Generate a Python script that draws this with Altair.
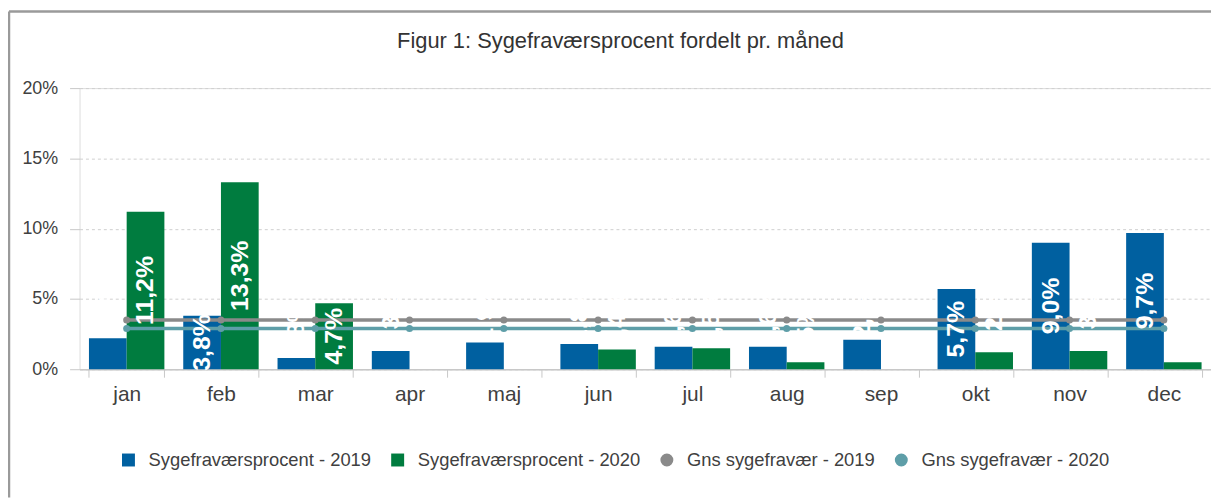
import altair as alt
import pandas as pd

months = ["jan", "feb", "mar", "apr", "maj", "jun", "jul", "aug", "sep", "okt", "nov", "dec"]
pct_2019 = [2.2, 3.8, 0.8, 1.3, 1.9, 1.8, 1.6, 1.6, 2.1, 5.7, 9.0, 9.7]
pct_2020 = [11.2, 13.3, 4.7, 0.0, 0.0, 1.4, 1.5, 0.5, 0.0, 1.2, 1.3, 0.5]
avg_2019 = [3.5, 3.5, 3.5, 3.5, 3.5, 3.5, 3.5, 3.5, 3.5, 3.5, 3.5, 3.5]
avg_2020 = [2.9, 2.9, 2.9, 2.9, 2.9, 2.9, 2.9, 2.9, 2.9, 2.9, 2.9, 2.9]

s_bar19 = "Sygefraværsprocent - 2019"
s_bar20 = "Sygefraværsprocent - 2020"
s_avg19 = "Gns sygefravær - 2019"
s_avg20 = "Gns sygefravær - 2020"
series = [s_bar19, s_bar20, s_avg19, s_avg20]
colors = ["#0060A0", "#007C3F", "#8A8A8A", "#5E9EA8"]
shapes = ["square", "square", "circle", "circle"]
title_text = "Figur 1: Sygefraværsprocent fordelt pr. måned"
color_of = dict(zip(series, colors))

def fmt(v):
    return f"{v:.1f}".replace(".", ",") + "%"

bar_rows = []
for m, a, b in zip(months, pct_2019, pct_2020):
    bar_rows.append({"month": m, "series": s_bar19, "value": a, "mid": a / 2,
                     "label": fmt(a), "hex": color_of[s_bar19]})
    bar_rows.append({"month": m, "series": s_bar20, "value": b, "mid": b / 2,
                     "label": fmt(b), "hex": color_of[s_bar20]})
bars_df = pd.DataFrame(bar_rows)

line_rows = []
for m, a, b in zip(months, avg_2019, avg_2020):
    line_rows.append({"month": m, "series": s_avg19, "value": a, "hex": color_of[s_avg19]})
    line_rows.append({"month": m, "series": s_avg20, "value": b, "hex": color_of[s_avg20]})
lines_df = pd.DataFrame(line_rows)

legend_df = pd.DataFrame({"month": ["jan"] * 4, "series": series, "value": [None] * 4})
frame_df = pd.DataFrame({"a": [0]})

W, H = 1139, 283
FONT = "Liberation Sans"

x_enc = alt.X(
    "month:N", sort=months,
    scale=alt.Scale(paddingInner=0.2, paddingOuter=0.1),
    axis=alt.Axis(title=None, tickBand="extent", labelAngle=0, labelFontSize=21,
                  labelColor="#404040", labelFont=FONT, domainColor="#c8c8c8",
                  domainWidth=1.5, tickColor="#c8c8c8", tickSize=8, labelPadding=6,
                  grid=False),
)
y_axis = alt.Axis(values=[0, 5, 10, 15, 20], labelExpr="datum.value + '%'", title=None,
                  domain=False, tickSize=10, tickColor="#c8c8c8", gridDash=[3, 3],
                  gridColor="#d0d0d0", labelPadding=12, labelFontSize=18,
                  labelColor="#404040", labelFont=FONT)
y_scale = alt.Scale(domain=[0, 20], nice=False)
xoff = alt.XOffset("series:N", sort=[s_bar19, s_bar20],
                   scale=alt.Scale(paddingInner=0, paddingOuter=0))

bars = alt.Chart(bars_df).mark_bar().encode(
    x=x_enc,
    xOffset=xoff,
    y=alt.Y("value:Q", scale=y_scale, axis=y_axis),
    color=alt.Color("hex:N", scale=None),
)

lines = alt.Chart(lines_df).mark_line(
    strokeWidth=3.5, point=alt.OverlayMarkDef(size=50, filled=True)
).encode(
    x=x_enc,
    y=alt.Y("value:Q"),
    color=alt.Color("hex:N", scale=None),
    detail="series:N",
)

labels_big = alt.Chart(bars_df).transform_filter("datum.value >= 3.5").mark_text(
    angle=270, align="center", baseline="middle", color="white",
    fontWeight="bold", fontSize=25, font=FONT
).encode(x=x_enc, xOffset=xoff, y=alt.Y("mid:Q"), text="label:N")

labels_small = alt.Chart(bars_df).transform_filter(
    "datum.value > 0 && datum.value < 3.5").mark_text(
    angle=270, align="left", baseline="middle", color="white",
    fontWeight="bold", fontSize=25, font=FONT, dx=1
).encode(x=x_enc, xOffset=xoff, y=alt.Y("value:Q"), text="label:N")

leg = alt.Legend(title=None, orient="none", legendX=40, legendY=365,
                 direction="horizontal", symbolSize=170,
                 labelFontSize=18.5, labelColor="#404040", labelLimit=0,
                 labelFont=FONT, columnPadding=17, labelOffset=11,
                 symbolStrokeWidth=0)

legend_layer = alt.Chart(legend_df).mark_point(filled=True, opacity=1).encode(
    x=x_enc,
    y=alt.Y("value:Q"),
    color=alt.Color("series:N", scale=alt.Scale(domain=series, range=colors), legend=leg),
    shape=alt.Shape("series:N", scale=alt.Scale(domain=series, range=shapes), legend=leg),
)

frame_left = alt.Chart(frame_df).mark_rule(color="#9a9a9a", strokeWidth=2.5).encode(
    x=alt.value(-71), y=alt.value(-77), y2=alt.value(H + 129))
frame_top = alt.Chart(frame_df).mark_rule(color="#9a9a9a", strokeWidth=2.5).encode(
    y=alt.value(-77), x=alt.value(-71), x2=alt.value(W))

chart = alt.layer(
    frame_left, frame_top, bars, lines, labels_big, labels_small, legend_layer
).properties(
    width=W, height=H,
    title=alt.TitleParams(title_text, fontSize=22, font=FONT, fontWeight="normal",
                          color="#333333", frame="group", offset=0, dy=43, dx=-25),
    padding={"left": 72, "top": 79, "right": 0, "bottom": 129},
    autosize=alt.AutoSizeParams(type="none"),
).configure_view(stroke=None).configure(font=FONT)

chart.save("out.html", embed_options={"renderer": "svg", "actions": False})
